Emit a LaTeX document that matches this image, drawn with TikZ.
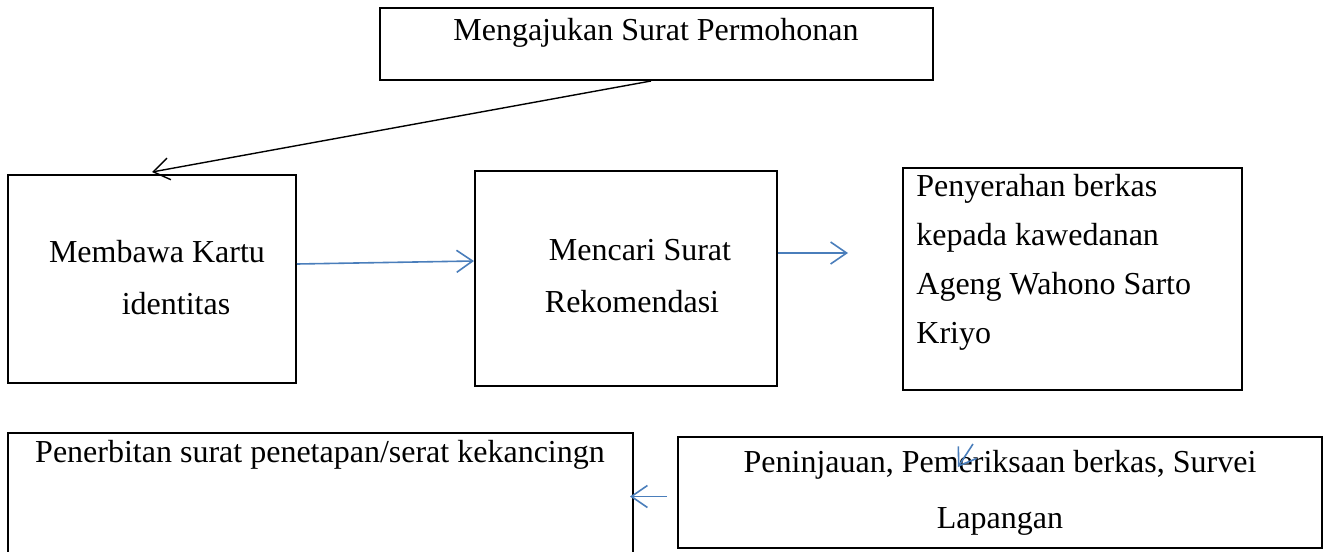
\documentclass[tikz,border=0pt]{standalone}
\usepackage{fontspec}
\setmainfont{Liberation Serif}
\usetikzlibrary{arrows.meta}
\definecolor{arrowblue}{RGB}{74,126,187}
\begin{document}
\begin{tikzpicture}[x=0.5pt,y=-0.5pt,
  box/.style={draw=black, line width=1pt, inner sep=0pt},
  txt/.style={inner sep=0pt, anchor=base, font=\fontsize{16}{19}\selectfont},
  txtl/.style={txt, anchor=base west},
  bluearrow/.style={draw=arrowblue, line width=0.8pt, -{Straight Barb[length=8pt,width=11pt]}},
  blackarrow/.style={draw=black, line width=0.7pt, -{Straight Barb[length=8pt,width=11pt]}}]
\path[use as bounding box] (0,0) rectangle (1330,552);
\clip (0,0) rectangle (1330,552);
% boxes
\node[box, minimum width=276.5pt, minimum height=36pt] (top) at (656.5,44) {};
\node[box, minimum width=144pt, minimum height=104pt] (b1) at (152,279) {};
\node[box, minimum width=151pt, minimum height=107.5pt] (b2) at (626,278.5) {};
\node[box, minimum width=169.5pt, minimum height=111pt] (b3) at (1072.5,279) {};
\node[box, minimum width=312.5pt, minimum height=63.5pt] (bl) at (320.5,496.5) {};
\node[box, minimum width=322pt, minimum height=55.5pt] (br) at (1000,492.5) {};
% texts
\node[txt] (t0) at (656,40) {Mengajukan Surat Permohonan};
\node[txt] (t1a) at (157,262) {Membawa Kartu};
\node[txt] (t1b) at (176,314) {identitas};
\node[txt] (t2a) at (640,260) {Mencari Surat};
\node[txt] (t2b) at (632,312) {Rekomendasi};
\node[txtl] (t3a) at (916,196) {Penyerahan berkas};
\node[txtl] (t3b) at (916,245) {kepada kawedanan};
\node[txtl] (t3c) at (916,294) {Ageng Wahono Sarto};
\node[txtl] (t3d) at (916,343) {Kriyo};
\node[txt] (t4) at (320,462) {Penerbitan surat penetapan/serat kekancingn};
\node[txt] (t5a) at (1000,472) {Peninjauan, Pemeriksaan berkas, Survei};
\node[txt] (t5b) at (1000,528) {Lapangan};
% free ends
\coordinate (e2) at (848,253);
\coordinate (s5) at (973,444);
\coordinate (e5) at (958,467);
% connectors
\draw[blackarrow] ([xshift=-2.75pt]top.south) -- ([yshift=1pt]b1.north);
\draw[bluearrow] ([yshift=7.5pt]b1.east) -- ([yshift=8.75pt]b2.west);
\draw[bluearrow] ([yshift=12.75pt]b2.east) -- (e2);
\draw[bluearrow] ([xshift=-5pt,yshift=-2pt]br.west) -- ([xshift=-2pt]bl.east);
\draw[bluearrow] (s5) -- (e5);
\end{tikzpicture}
\end{document}
